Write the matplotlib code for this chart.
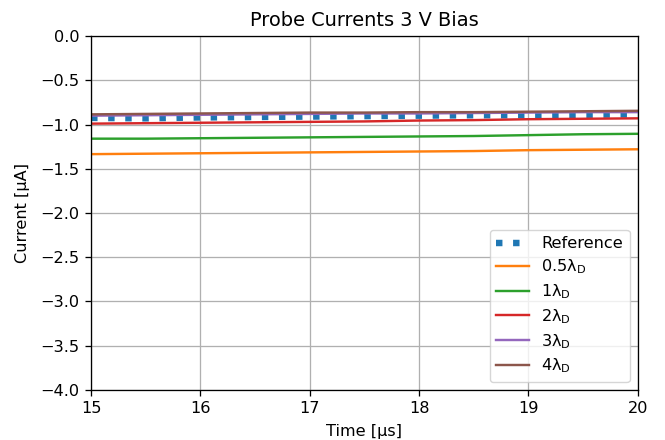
import matplotlib
matplotlib.use("Agg")
import matplotlib.pyplot as plt

# time axis [us]
time_us = [15.0, 15.5, 16.0, 16.5, 17.0, 17.5, 18.0, 18.5, 19.0, 19.5, 20.0]

# probe currents [uA]
reference = [-0.925, -0.93, -0.92, -0.915, -0.91, -0.905, -0.90, -0.895, -0.895, -0.89, -0.885]
lam_05 = [-1.335, -1.33, -1.325, -1.32, -1.315, -1.31, -1.305, -1.30, -1.29, -1.285, -1.28]
lam_1 = [-1.16, -1.16, -1.155, -1.15, -1.145, -1.14, -1.135, -1.13, -1.12, -1.11, -1.105]
lam_2 = [-0.99, -0.985, -0.98, -0.975, -0.97, -0.965, -0.955, -0.95, -0.94, -0.935, -0.93]
lam_3 = [-0.90, -0.895, -0.89, -0.885, -0.88, -0.875, -0.875, -0.87, -0.865, -0.86, -0.86]
lam_4 = [-0.885, -0.88, -0.875, -0.87, -0.865, -0.865, -0.86, -0.86, -0.855, -0.85, -0.845]

series = [
    ("0.5λ$_\\mathrm{D}$", lam_05, "C1"),
    ("1λ$_\\mathrm{D}$", lam_1, "C2"),
    ("2λ$_\\mathrm{D}$", lam_2, "C3"),
    ("3λ$_\\mathrm{D}$", lam_3, "C4"),
    ("4λ$_\\mathrm{D}$", lam_4, "C5"),
]

# the original looks like a default-style figure rendered ~1.16x larger
s = 1.16
plt.rcParams.update({
    "font.size": 10 * s,
    "axes.linewidth": 0.8 * s,
    "xtick.major.width": 0.8 * s,
    "ytick.major.width": 0.8 * s,
    "xtick.major.size": 3.5 * s,
    "ytick.major.size": 3.5 * s,
    "xtick.major.pad": 3.5 * s,
    "ytick.major.pad": 3.5 * s,
})

fig = plt.figure(figsize=(6.65, 4.4), dpi=100)
ax = fig.add_axes([0.137, 0.114, 0.822, 0.804])

ax.plot(time_us, reference, color="C0", linewidth=4 * s, linestyle=":",
        label="Reference")
for label, values, color in series:
    ax.plot(time_us, values, color=color, linewidth=1.5 * s, label=label)

ax.set_xlim(15, 20)
ax.set_ylim(-4, 0)
ax.set_xticks([15, 16, 17, 18, 19, 20])
ax.grid(True, color="#b0b0b0", linewidth=0.8 * s)
ax.set_xlabel("Time [µs]", fontsize=10 * s, labelpad=6)
ax.set_ylabel("Current [µA]", fontsize=10 * s, labelpad=8)
ax.set_title("Probe Currents 3 V Bias", fontsize=12 * s, pad=6 * s)
ax.tick_params(labelsize=10 * s)
ax.legend(loc="lower right", fontsize=10 * s, labelspacing=0.38)

fig.savefig("out.png", dpi=100)
